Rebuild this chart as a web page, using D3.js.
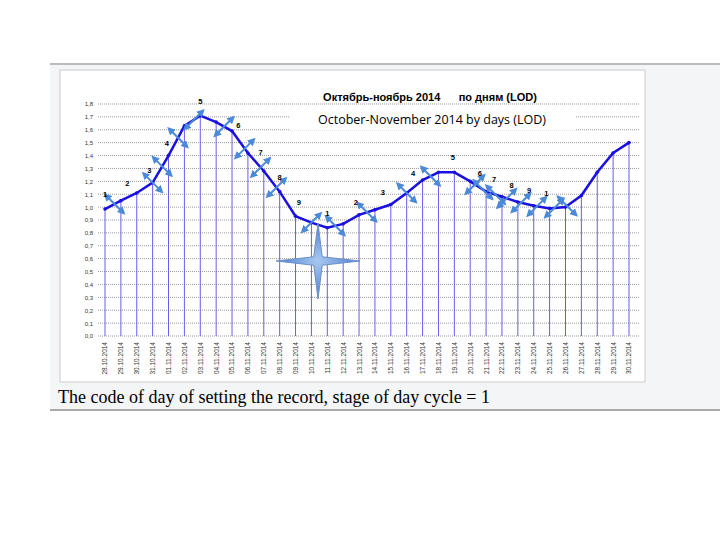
<!DOCTYPE html>
<html><head><meta charset="utf-8">
<script src="https://cdn.jsdelivr.net/npm/d3@7"></script>
<style>body{margin:0;background:#fff}</style></head>
<body><script>
const dates = ["28.10.2014","29.10.2014","30.10.2014","31.10.2014","01.11.2014","02.11.2014","03.11.2014","04.11.2014","05.11.2014","06.11.2014","07.11.2014","08.11.2014","09.11.2014","10.11.2014","11.11.2014","12.11.2014","13.11.2014","14.11.2014","15.11.2014","16.11.2014","17.11.2014","18.11.2014","19.11.2014","20.11.2014","21.11.2014","22.11.2014","23.11.2014","24.11.2014","25.11.2014","26.11.2014","27.11.2014","28.11.2014","29.11.2014","30.11.2014"];
const lod = [0.985,1.05,1.11,1.19,1.40,1.63,1.71,1.66,1.59,1.42,1.28,1.12,0.93,0.88,0.84,0.87,0.94,0.98,1.02,1.11,1.21,1.27,1.27,1.20,1.12,1.08,1.04,1.01,0.99,1.0,1.09,1.27,1.42,1.50];
const yTicks = d3.range(0, 19).map(i => i / 10);
// stage labels: [index position, stage]
const stages = [[0,1],[1.4,2],[2.8,3],[3.9,4],[6,5],[8.4,6],[9.8,7],[11,8],[12.2,9],[14,1],[15.8,2],[17.5,3],[19.4,4],[21.9,5],[23.6,6],[24.5,7],[25.6,8],[26.7,9],[27.8,1]];
// double arrows: [index position, direction +1 "\" or -1 "/"]
const arrows = [[0.6,1],[3,1],[3.6,1],[4.6,1],[5.6,-1],[7.5,-1],[8.8,-1],[9.8,-1],[10.8,-1],[13,-1],[14.5,1],[16.5,1],[19,1],[20.5,1],[23.3,-1],[23.8,1],[24.6,1],[25.3,-1],[26.2,-1],[27.2,-1],[28.3,-1],[29.1,1]];

const W = 720, H = 540;
const svg = d3.select("body").append("svg").attr("width", W).attr("height", H);

svg.append("rect").attr("x", 50).attr("y", 65).attr("width", 670).attr("height", 344).attr("fill", "#f3f5f7");
svg.append("line").attr("x1", 50).attr("x2", 720).attr("y1", 64).attr("y2", 64).attr("stroke", "#bbb").attr("stroke-width", 2);
svg.append("line").attr("x1", 50).attr("x2", 720).attr("y1", 410).attr("y2", 410).attr("stroke", "#aaa").attr("stroke-width", 2);
svg.append("rect").attr("x", 60).attr("y", 70).attr("width", 585).attr("height", 312).attr("fill", "#fff").attr("stroke", "#ccc");

const x = d3.scaleLinear().domain([0, dates.length - 1]).range([105, 629]);
const y = d3.scaleLinear().domain([0, 1.8]).range([336, 104]);

const g = svg.append("g");
g.selectAll(".grid").data(yTicks).enter().append("line")
  .attr("x1", 98).attr("x2", 640).attr("y1", d => y(d)).attr("y2", d => y(d))
  .attr("stroke", "#999").attr("stroke-dasharray", "1,1");
g.append("g").attr("transform", "translate(96,0)")
  .call(d3.axisLeft(y).tickValues(yTicks).tickSize(0).tickFormat(d => d3.format(".1f")(d).replace(".", ",")))
  .call(a => a.select(".domain").remove())
  .selectAll("text").attr("font-size", 6).attr("font-family", "Arial").attr("fill", "#333");

g.selectAll(".drop").data(lod).enter().append("line")
  .attr("x1", (d, i) => x(i)).attr("x2", (d, i) => x(i))
  .attr("y1", y(0)).attr("y2", d => y(d)).attr("stroke", "#6a5cf0").attr("stroke-width", 1);

g.append("g").attr("transform", `translate(0,${y(0) + 6})`)
  .call(d3.axisBottom(x).tickValues(d3.range(dates.length)).tickSize(0).tickFormat(i => dates[i]))
  .call(a => a.select(".domain").remove())
  .selectAll("text").attr("font-size", 6.5).attr("font-family", "Arial").attr("fill", "#333")
  .attr("transform", "rotate(-90)").attr("text-anchor", "end").attr("dx", 0).attr("dy", "0.3em").attr("y", 0);

g.append("path").datum(lod)
  .attr("d", d3.line().x((d, i) => x(i)).y(d => y(d)))
  .attr("fill", "none").attr("stroke", "#1a10e0").attr("stroke-width", 2.5);
g.selectAll(".pt").data(lod).enter().append("circle")
  .attr("cx", (d, i) => x(i)).attr("cy", d => y(d)).attr("r", 1.8).attr("fill", "#1a10e0");

const valAt = p => { const i = Math.floor(p), f = p - i; return i + 1 < lod.length ? lod[i] * (1 - f) + lod[i + 1] * f : lod[i]; };

const defs = svg.append("defs");
defs.append("marker").attr("id", "ah").attr("viewBox", "0 0 10 10").attr("refX", 5).attr("refY", 5)
  .attr("markerWidth", 4).attr("markerHeight", 4).attr("orient", "auto-start-reverse")
  .append("path").attr("d", "M0,0L10,5L0,10z").attr("fill", "#4a8ad8");
g.selectAll(".arr").data(arrows).enter().append("line")
  .attr("x1", d => x(d[0]) - 8).attr("x2", d => x(d[0]) + 8)
  .attr("y1", d => y(valAt(d[0])) - 8 * d[1]).attr("y2", d => y(valAt(d[0])) + 8 * d[1])
  .attr("stroke", "#4a8ad8").attr("stroke-width", 2)
  .attr("marker-start", "url(#ah)").attr("marker-end", "url(#ah)");

g.selectAll(".stg").data(stages).enter().append("text")
  .attr("x", d => x(d[0])).attr("y", d => y(valAt(d[0])) - 12)
  .attr("text-anchor", "middle").attr("font-size", 7.5).attr("font-weight", "bold")
  .attr("font-family", "Arial").text(d => d[1]);

// star
const sx = 318, sy = 261;
const star = d3.range(8).map(k => {
  const a = k * Math.PI / 4, r = k % 2 ? 6 : (k % 4 === 0 ? 42 : 38);
  return [sx + r * Math.cos(a), sy + r * Math.sin(a)];
});
const sg = defs.append("radialGradient").attr("id", "sg");
sg.append("stop").attr("offset", "0").attr("stop-color", "#a8c8f0");
sg.append("stop").attr("offset", "1").attr("stop-color", "#4a7fd0");
svg.append("path").attr("d", d3.line()(star) + "Z").attr("fill", "url(#sg)").attr("stroke", "#6d90c8");

svg.append("text").attr("x", 430).attr("y", 101).attr("text-anchor", "middle")
  .attr("font-family", "Arial").attr("font-weight", "bold").attr("font-size", 11)
  .attr("xml:space", "preserve").text("Октябрь-ноябрь 2014      по дням (LOD)");
svg.append("rect").attr("x", 290).attr("y", 108).attr("width", 285).attr("height", 22).attr("fill", "#fff");
svg.append("text").attr("x", 432).attr("y", 124).attr("text-anchor", "middle")
  .attr("font-family", "Open Sans").attr("font-size", 12.5).text("October-November 2014 by days (LOD)");

svg.append("text").attr("x", 58).attr("y", 403)
  .attr("font-family", "Liberation Serif").attr("font-size", 18)
  .text("The code of day of setting the record, stage of day cycle = 1");
</script></body></html>
